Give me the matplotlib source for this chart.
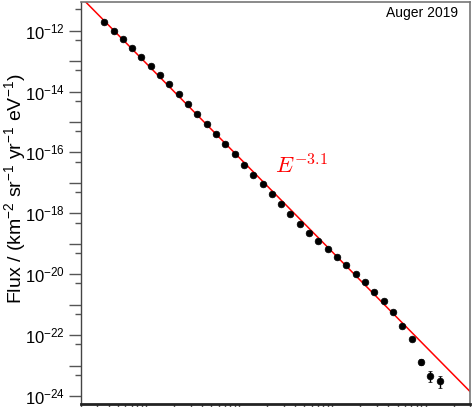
import numpy as np
import matplotlib
matplotlib.use("Agg")
import matplotlib.pyplot as plt
from matplotlib.ticker import FixedLocator, FuncFormatter, NullFormatter

plt.rcParams['font.family'] = ['Liberation Sans', 'DejaVu Sans']
plt.rcParams['mathtext.fontset'] = 'custom'
plt.rcParams['mathtext.rm'] = 'Liberation Sans'
plt.rcParams['mathtext.it'] = 'Liberation Sans:italic'
plt.rcParams['mathtext.bf'] = 'Liberation Sans:bold'

# log10(E/eV) bin centres
lg_e = [16.55, 16.65, 16.75, 16.85, 16.95, 17.05, 17.15, 17.25, 17.35, 17.45,
        17.55, 17.65, 17.75, 17.85, 17.95, 18.05, 18.15, 18.25, 18.35, 18.45,
        18.55, 18.65, 18.75, 18.85, 18.95, 19.05, 19.15, 19.25, 19.35, 19.45,
        19.55, 19.65, 19.75, 19.85, 19.95, 20.05, 20.15]
# log10 flux / (km^-2 sr^-1 yr^-1 eV^-1)
lg_flux = [-11.72, -12.00, -12.28, -12.58, -12.85, -13.15, -13.46, -13.76, -14.09, -14.41,
           -14.74, -15.07, -15.39, -15.73, -16.06, -16.41, -16.73, -17.04, -17.38, -17.70,
           -18.03, -18.36, -18.66, -18.91, -19.17, -19.42, -19.68, -19.98, -20.27, -20.58,
           -20.87, -21.23, -21.69, -22.13, -22.87, -23.33, -23.52]
# error bars in dex (only visible for the last bins)
lg_err_lo = [0] * 33 + [0.03, 0.10, 0.20, 0.23]
lg_err_hi = [0] * 33 + [0.03, 0.10, 0.16, 0.18]

# power law E^-3.1 normalised at 1e19 eV
gamma = 3.1
lg_norm_1e19 = -19.27

energy = 10 ** np.array(lg_e)
flux = 10 ** np.array(lg_flux)
err_lo = flux - 10 ** (np.array(lg_flux) - np.array(lg_err_lo))
err_hi = 10 ** (np.array(lg_flux) + np.array(lg_err_hi)) - flux

W, H = 473, 407
fig = plt.figure(figsize=(W / 100, H / 100), dpi=100)
ax = fig.add_axes([81 / W, 1 - 404 / H, (470 - 81) / W, (404 - 2) / H])

ax.set_xscale('log')
ax.set_yscale('log')
xmin, xmax = 2e16, 3e20
ax.set_xlim(xmin, xmax)
ax.set_ylim(10 ** -24.26, 10 ** -11.06)

xl = np.logspace(np.log10(xmin), np.log10(xmax), 50)
ax.plot(xl, 10 ** lg_norm_1e19 * (xl / 1e19) ** (-gamma), color='#ff0000', lw=1.1, zorder=2)

ax.errorbar(energy, flux, yerr=[err_lo, err_hi], fmt='o', color='black', ms=4.8, mew=0.5,
            elinewidth=1.0, capsize=1.6, capthick=1.0, zorder=3)

# y ticks: long at every decade, labels every second, short at 5x
ydec = [10.0 ** k for k in range(-25, -10)]
ax.yaxis.set_major_locator(FixedLocator(ydec))
ax.yaxis.set_minor_locator(FixedLocator([5 * d for d in ydec]))

def ylab(v, pos):
    k = int(round(np.log10(v)))
    if k % 2 == 0:
        return r'$10^{%d}$' % k
    return ''

ax.yaxis.set_major_formatter(FuncFormatter(ylab))
ax.yaxis.set_minor_formatter(NullFormatter())

xdec = [10.0 ** k for k in range(16, 21)]
ax.xaxis.set_major_locator(FixedLocator(xdec))
ax.xaxis.set_minor_locator(FixedLocator([m * d for d in xdec for m in range(2, 10)]))
ax.xaxis.set_major_formatter(NullFormatter())
ax.xaxis.set_minor_formatter(NullFormatter())

tc = '#555555'
ax.tick_params(axis='y', which='major', length=8.6, width=1.0, color=tc, labelsize=12, pad=3)
ax.tick_params(axis='y', which='minor', length=4.3, width=1.0, color=tc)
ax.tick_params(axis='x', which='major', length=7.5, width=1.0, color=tc, labelbottom=False)
ax.tick_params(axis='x', which='minor', length=3.8, width=1.0, color=tc)

for s in ['top', 'right']:
    ax.spines[s].set_color('#777777')
    ax.spines[s].set_linewidth(1.2)
ax.spines['left'].set_color('#444444')
ax.spines['left'].set_linewidth(1.0)
ax.spines['bottom'].set_color('#222222')
ax.spines['bottom'].set_linewidth(2.0)

fig.text(15 / W, 1 - 189 / H,
         r'Flux / (km$^{-2}$ sr$^{-1}$ yr$^{-1}$ eV$^{-1}$)',
         rotation=90, ha='center', va='center', fontsize=14)

fig.text(458 / W, 1 - 13.5 / H, 'Auger 2019', ha='right', va='center', fontsize=10)

fig.text(275 / W, 1 - 173 / H, r'$E^{-3.1}$', color='#ff0000', fontsize=16.5,
         math_fontfamily='cm', ha='left', va='baseline')

fig.savefig('out.png', dpi=100)
